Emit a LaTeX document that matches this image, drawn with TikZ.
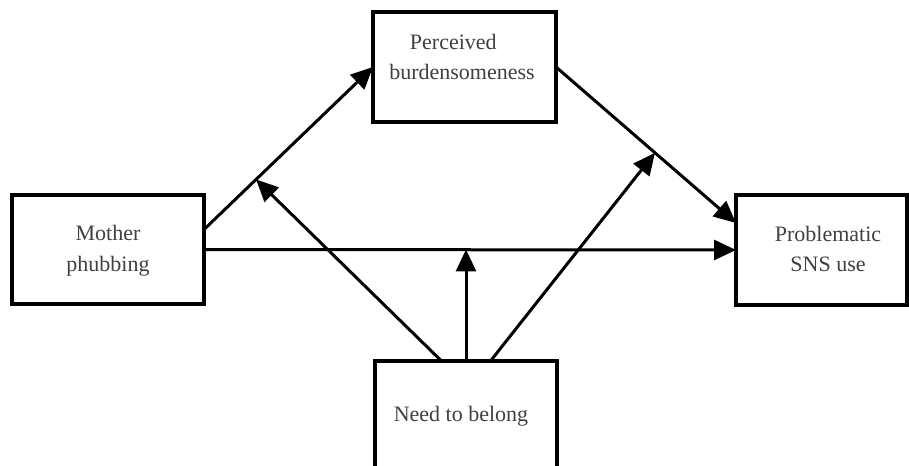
\documentclass[tikz,border=0pt]{standalone}
\usepackage{fontspec}
\setmainfont{Liberation Serif}
\usetikzlibrary{arrows.meta,calc}
\begin{document}
\begin{tikzpicture}[x=0.75pt,y=-0.75pt,
  box/.style={draw=black,line width=2.4pt,inner sep=0pt,outer sep=0pt,fill=white},
  lbl/.style={font=\fontsize{16.5}{23}\selectfont,text=black!75,align=center},
  arr/.style={line width=2.25pt,-{Triangle[length=16.5pt,width=15pt]}}]
\useasboundingbox (0,0) rectangle (909,466);
\fill[white] (0,0) rectangle (909,466);
\clip (0,0) rectangle (909,466);
% boxes
\node[box,minimum width=144pt,minimum height=81.75pt] (mp) at (108,249.5) {};
\node[box,minimum width=137.25pt,minimum height=82.5pt] (pb) at (464.5,67) {};
\node[box,minimum width=128.25pt,minimum height=82.5pt] (psu) at (821.5,250) {};
\node[box,minimum width=136.5pt,minimum height=82.5pt] (ntb) at (466,416) {};
% labels
\node[lbl] (mpt) at (108,251) {Mother\\phubbing};
\node[lbl] (pbt) at (462,57) {Perceived\hspace*{13pt}\\burdensomeness};
\node[lbl] (psut) at (828,249) {Problematic\\SNS use};
\node[lbl] (ntbt) at (461,416) {Need to belong};
% connectors
\coordinate (mpa) at ($(mp.east)+(0,-20)$);
\coordinate (psa) at ($(psu.west)+(0,-27)$);
\draw[arr] (mpa) -- (pb.west);
\draw[arr] (pb.east) -- (psa);
\draw[arr] (mp.east) -- (psu.west);
\coordinate (n1) at ($(ntb.north)+(-24.5,0)$);
\coordinate (n3) at ($(ntb.north)+(24.5,0)$);
\coordinate (t1) at ($(mpa)!0.308!(pb.west)$);
\coordinate (t3) at ($(pb.east)!0.55!(psa)$);
\draw[arr] (n1) -- (t1);
\draw[arr] (ntb.north) -- (ntb.north |- mp.east);
\draw[arr] (n3) -- (t3);
\end{tikzpicture}
\end{document}
